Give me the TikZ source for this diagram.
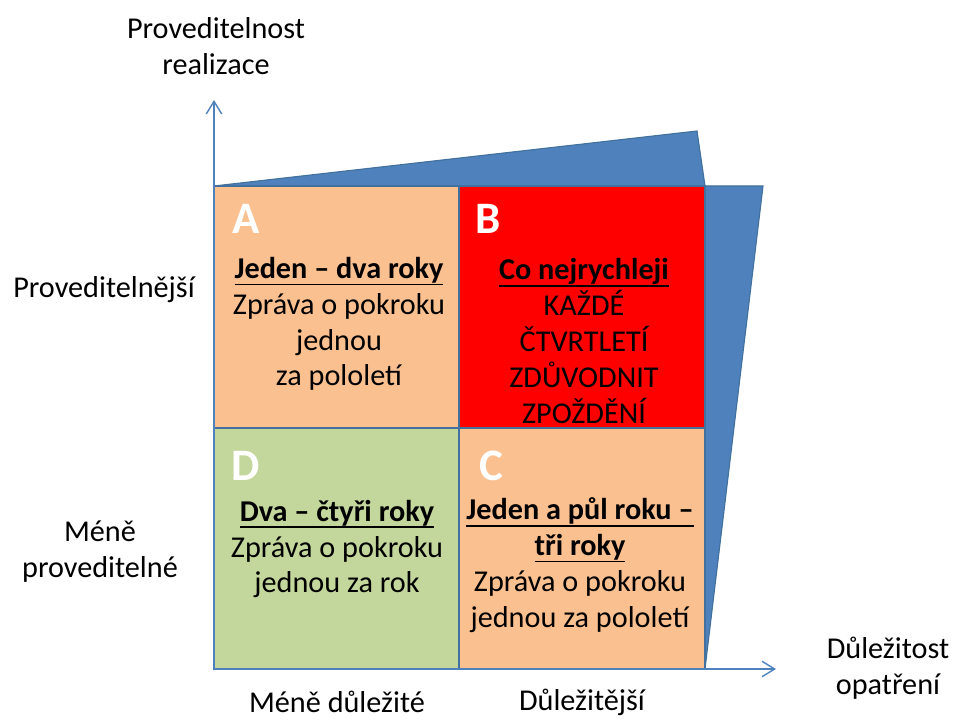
\documentclass[tikz,border=0pt]{standalone}
\usepackage{fontspec}
\setmainfont{Carlito}
\usetikzlibrary{arrows.meta}
\definecolor{peach}{HTML}{FAC090}
\definecolor{leaf}{HTML}{C3D69B}
\definecolor{steel}{HTML}{4F81BD}
\definecolor{edge}{HTML}{41719C}
\newcommand{\ulbox}[1]{\setbox0\hbox{#1}\leavevmode\rlap{\rule[-5pt]{\wd0}{1.3pt}}\box0}

\begin{document}
\begin{tikzpicture}[x=0.025cm, y=-0.025cm,
		txt/.style={font=\fontsize{21.5}{25.5}\selectfont, align=center, inner sep=0pt},
		letter/.style={font=\fontsize{32}{34}\selectfont\bfseries, text=white, inner sep=0pt},
		cell/.style={draw=edge, line width=0.8pt},
		axis/.style={steel, line width=1pt, -{Straight Barb[length=9pt, width=11pt]}}]
		\useasboundingbox (0,0) rectangle (960,722);
		% blue wedges behind the grid
		\filldraw[fill=steel, draw=edge, line width=0.8pt] (214,186) -- (697,131) -- (705,186) -- cycle;
		\filldraw[fill=steel, draw=edge, line width=0.8pt] (705,186) -- (763,186) -- (707,652) -- (705,669) -- cycle;
		% quadrants
		\filldraw[cell, fill=peach] (214,186) rectangle (459,428);
		\filldraw[cell, fill=red] (459,186) rectangle (705,428);
		\filldraw[cell, fill=leaf] (214,428) rectangle (459,669);
		\filldraw[cell, fill=peach] (459,428) rectangle (705,669);
		\draw[edge, line width=1.6pt] (214,186) -- (705,186);
		% axes
		\coordinate (O) at (214,669);
		\coordinate (ytop) at (214,100);
		\coordinate (xend) at (776,669);
		\draw[axis] (O) -- (ytop);
		\draw[axis] (O) -- (xend);
		% quadrant letters
		\foreach \q/\x/\y in {A/246/219, B/488/219, D/246/466, C/491/466}{
			\node[letter] (l\q) at (\x,\y) {\q};
		}
		% quadrant texts
		\node[txt] (tA) at (339,324) {\ulbox{\textbf{Jeden – dva roky}}\\Zpráva o pokroku\\jednou\\za pololetí};
		\node[txt] (tB) at (584,341) {\ulbox{\textbf{Co nejrychleji}}\\KAŽDÉ\\ČTVRTLETÍ\\ZDŮVODNIT\\ZPOŽDĚNÍ};
		\node[txt] (tD) at (337,549) {\ulbox{\textbf{Dva – čtyři roky}}\\Zpráva o pokroku\\jednou za rok};
		\node[txt] (tC) at (580,565) {\ulbox{\textbf{Jeden a půl roku –}}\\\ulbox{\textbf{tři roky}}\\Zpráva o pokroku\\jednou za pololetí};
		% axis labels
		\node[txt] (ylab) at (216,46) {Proveditelnost\\realizace};
		\node[txt] (rowA) at (104,290) {Proveditelnější};
		\node[txt] (rowD) at (100,552) {Méně\\proveditelné};
		\node[txt] (xlab) at (888,668) {Důležitost\\opatření};
		\node[txt] (colA) at (337,702) {Méně důležité};
		\node[txt] (colB) at (582,702) {Důležitější};
	\end{tikzpicture}
\end{document}
